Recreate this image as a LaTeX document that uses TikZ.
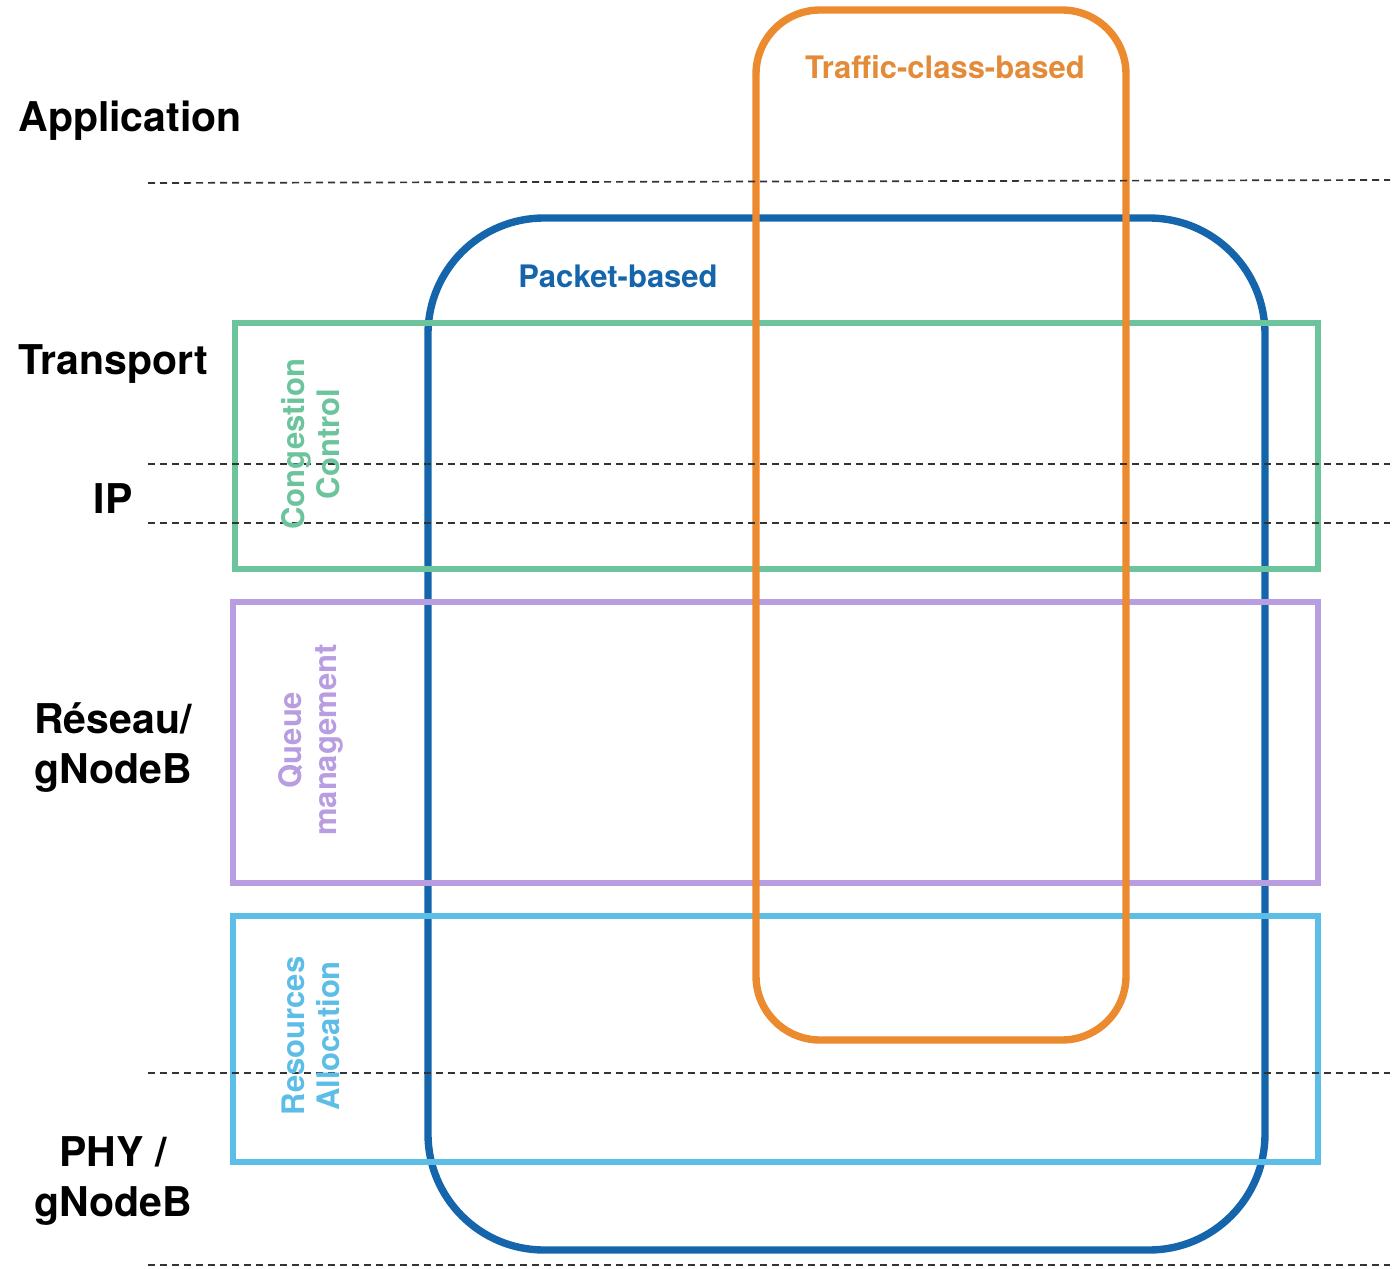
\documentclass[tikz,border=0pt]{standalone}
\usepackage{fontspec}
\setmainfont{TeX Gyre Heros}
\definecolor{cgreen}{HTML}{6CC49C}
\definecolor{cpurple}{HTML}{B89EE0}
\definecolor{clblue}{HTML}{5CBDE6}
\definecolor{cblue}{HTML}{1565AD}
\definecolor{corange}{HTML}{EC8A30}
\definecolor{corangetxt}{HTML}{E38B38}
\begin{document}
\begin{tikzpicture}[x=0.5pt,y=-0.5pt,
  layerline/.style={draw=black!80,line width=0.85pt,dash pattern=on 3.5pt off 2.5pt},
  layerlabel/.style={font=\bfseries\fontsize{20.5}{25}\selectfont,inner sep=0pt},
  funcbox/.style={line width=3.2pt},
  funclabel/.style={font=\bfseries\fontsize{15.5}{17.5}\selectfont,align=center,rotate=90,inner sep=0pt},
  scopebox/.style={line width=3.7pt},
  scopelabel/.style={font=\bfseries\fontsize{15.5}{18}\selectfont,inner sep=0pt}]
\useasboundingbox (0,0) rectangle (1394,1269);

% scope of packet-based mechanisms
\draw[scopebox,cblue,rounded corners=58pt] (428,218) rectangle (1265,1250);

% functional blocks spanning the layers
\draw[funcbox,cgreen] (235,323) rectangle (1318,569);
\draw[funcbox,cpurple] (233,602) rectangle (1318,883);
\draw[funcbox,clblue] (233,916) rectangle (1318,1162);

% scope of traffic-class-based mechanisms
\draw[scopebox,corange,rounded corners=32pt] (756,10) rectangle (1126,1040);

% layer boundaries
\coordinate (l1a) at (148,183); \coordinate (l1b) at (1390,180);
\coordinate (l2a) at (148,464); \coordinate (l2b) at (1390,464);
\coordinate (l3a) at (148,523); \coordinate (l3b) at (1390,523);
\coordinate (l4a) at (148,1073); \coordinate (l4b) at (1390,1073);
\coordinate (l5a) at (148,1265); \coordinate (l5b) at (1390,1265);
\draw[layerline] (l1a) -- (l1b);
\draw[layerline] (l2a) -- (l2b);
\draw[layerline] (l3a) -- (l3b);
\draw[layerline] (l4a) -- (l4b);
\draw[layerline] (l5a) -- (l5b);

% layer names
\node[layerlabel,anchor=base west] (app) at (18,131) {Application};
\node[layerlabel,anchor=base west] (transport) at (18,374) {Transport};
\node[layerlabel,anchor=base] (ip) at (113,513) {IP};
\node[layerlabel,align=center,anchor=base] (reseau) at (113,783) {Réseau/\\gNodeB};
\node[layerlabel,align=center,anchor=base] (phy) at (113,1216) {PHY /\\gNodeB};

% block labels
\node[funclabel,text=cgreen] (cc) at (311,444) {Congestion\\Control};
\node[funclabel,text=cpurple] (qm) at (311,740) {Queue\\management};
\node[funclabel,text=clblue] (ra) at (311,1036) {Resources\\Allocation};

% scope labels
\node[scopelabel,text=cblue] (pkt) at (618,276) {Packet-based};
\node[scopelabel,text=corangetxt] (tc) at (945,67) {Traffic-class-based};
\end{tikzpicture}
\end{document}
